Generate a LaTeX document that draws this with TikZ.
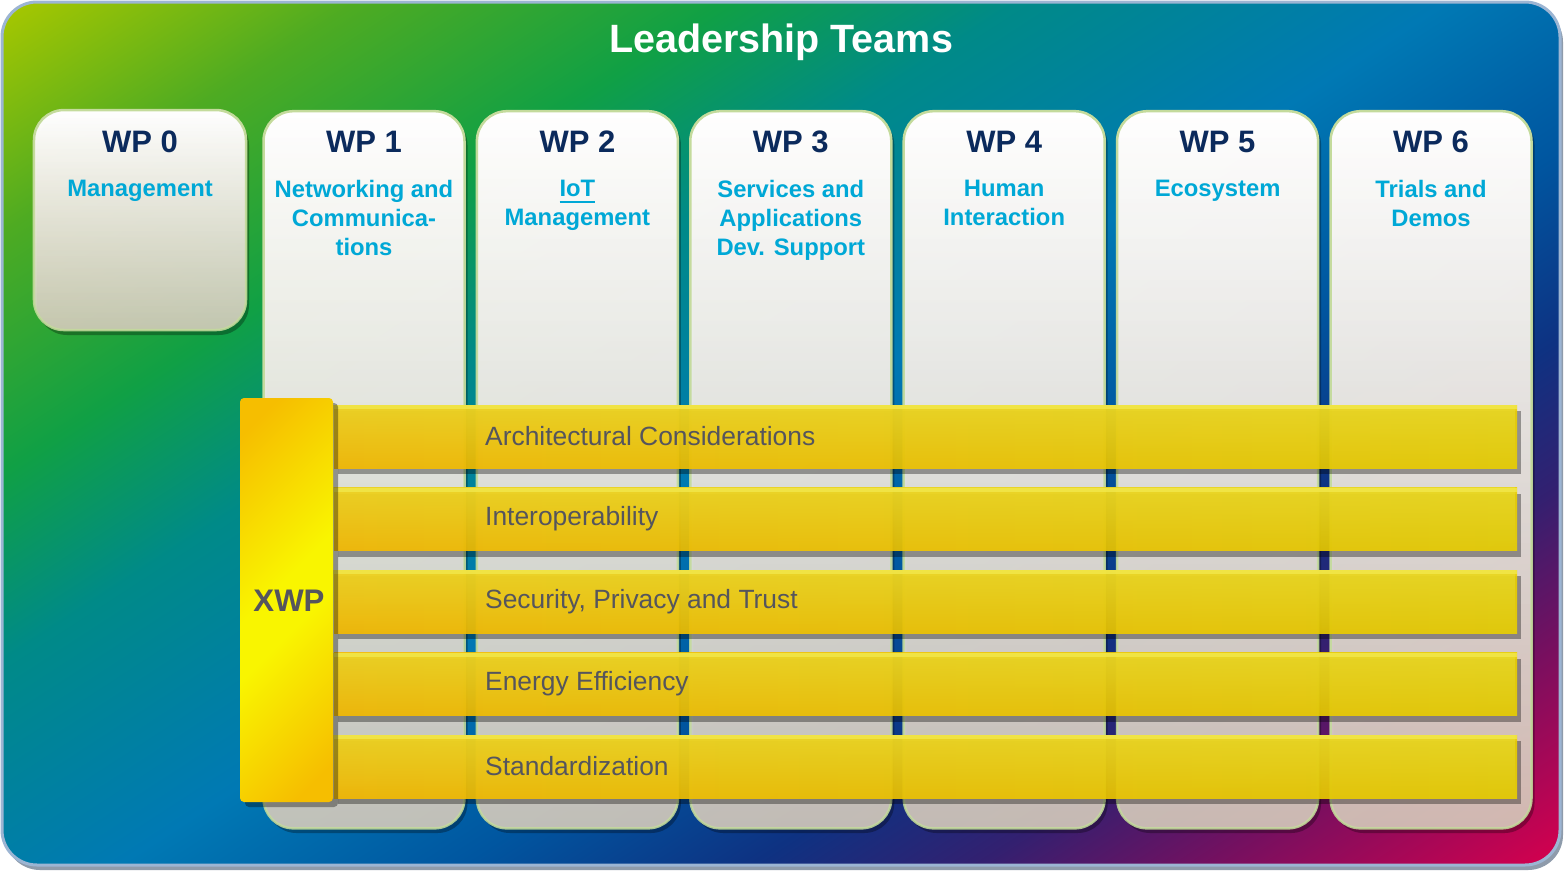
\documentclass[tikz,border=0pt]{standalone}
\usepackage{fontspec}
\setmainfont{Liberation Sans}
\usetikzlibrary{positioning,shadows,fadings}

% background, a diagonal sweep
\definecolor{bgA}{HTML}{A6C700}
\definecolor{bgB}{HTML}{4EAB22}
\definecolor{bgC}{HTML}{10A045}
\definecolor{bgD}{HTML}{008A88}
\definecolor{bgE}{HTML}{0079B4}
\definecolor{bgF}{HTML}{0056A0}
\definecolor{bgG}{HTML}{0E3282}
\definecolor{bgH}{HTML}{332070}
\definecolor{bgI}{HTML}{741060}
\definecolor{bgJ}{HTML}{D4004E}
\definecolor{wpnavy}{HTML}{0B2A5C}
\definecolor{wpcyan}{HTML}{00A8D6}
\definecolor{labelgray}{HTML}{55555D}
\definecolor{colrim}{HTML}{C4DB9C}
\definecolor{colbottom}{HTML}{DFD4C4}
\definecolor{framerim}{HTML}{9CB5D3}
\definecolor{frameshade}{HTML}{8E9BAB}
\definecolor{bandL}{HTML}{F8BC00}
\definecolor{bandR}{HTML}{EAD000}
\definecolor{bandhi}{HTML}{E8DA30}
\definecolor{bandtop}{HTML}{F2E84C}
\definecolor{xwpO}{HTML}{F6BE00}
\definecolor{xwpY}{HTML}{F9F500}

\pgfdeclarehorizontalshading{teamsbg}{100bp}{color(0bp)=(bgA); color(24.9bp)=(bgA);
  color(30.9bp)=(bgB); color(37.4bp)=(bgC); color(42.5bp)=(bgD); color(50bp)=(bgE);
  color(56bp)=(bgF); color(61.1bp)=(bgG); color(65.1bp)=(bgH); color(69.1bp)=(bgI);
  color(75.1bp)=(bgJ); color(100bp)=(bgJ)}
\pgfdeclarehorizontalshading{xwpshade}{100bp}{color(0bp)=(xwpO); color(20bp)=(xwpO);
  color(47bp)=(xwpY); color(55bp)=(xwpY); color(80bp)=(xwpO); color(100bp)=(xwpO)}
\tikzfading[name=fade down, top color=transparent!0, bottom color=transparent!100]
\tikzfading[name=col fade, top color=transparent!0, bottom color=transparent!14]

\newsavebox\ulbox
\newcommand\ulinetext[1]{\sbox\ulbox{#1}\rlap{\rule[-6.3pt]{\wd\ulbox}{2.3pt}}\usebox\ulbox}

\begin{document}
\begin{tikzpicture}[x=1pt, y=-1pt,
  teamframe/.style={rectangle, rounded corners=35, draw=framerim, line width=3, outer sep=0, inner sep=0,
    path picture={\shade[shading=teamsbg, shading angle=-57]
      ([xshift=-782pt,yshift=-782pt]path picture bounding box.center) rectangle
      ([xshift=782pt,yshift=782pt]path picture bounding box.center);},
    drop shadow={shadow xshift=3pt, shadow yshift=-5pt, fill=frameshade, opacity=1}},
  wpcol/.style={rectangle, rounded corners=30, draw=colrim, line width=2.5, outer sep=0, inner sep=0,
    top color=white, bottom color=colbottom, path fading=col fade, minimum width=201,
    drop shadow={shadow xshift=3pt, shadow yshift=-5pt, opacity=0.3, fill=black}},
  wphead/.style={anchor=base, text=wpnavy, font=\fontsize{31}{36}\selectfont\bfseries, inner sep=0},
  wpsub/.style={anchor=north, align=center, text=wpcyan, font=\fontsize{23.8}{29}\selectfont\bfseries, inner sep=0},
  bandbox/.style={rectangle, minimum width=1183, minimum height=63, inner sep=0, outer sep=0,
    left color=bandL, right color=bandR, fill opacity=0.9,
    drop shadow={shadow xshift=4pt, shadow yshift=-6pt, opacity=0.35, fill=black}},
  bandlabel/.style={anchor=west, text=labelgray, font=\fontsize{26.4}{30}\selectfont, inner sep=0},
  xwpbox/.style={rectangle, rounded corners=4, inner sep=0, outer sep=0,
    shade, shading=xwpshade, shading angle=-45,
    drop shadow={shadow xshift=5pt, shadow yshift=-5pt, opacity=0.35, fill=black}},
  xwplabel/.style={text=labelgray, font=\fontsize{31.2}{36}\selectfont\bfseries, inner sep=0}]
  \useasboundingbox (0,0) rectangle (1564,871);

  \node[teamframe, minimum width=1558, minimum height=863] (frame) at (781,433.5) {};
  \node[anchor=base, text=white, font=\fontsize{39.5}{44}\selectfont\bfseries, inner sep=0]
    (title) at ([yshift=-50pt]frame.north) {Leadership Teams};

  % work packages
  \node[wpcol, minimum width=212, minimum height=220] (wp0) at (140,220) {};
  \node[wphead] (wp0-head) at ([yshift=-42pt]wp0.north) {WP 0};
  \node[wpsub] (wp0-sub) at ([yshift=-70pt]wp0.north) {Management};
  \foreach \n/\x/\sub in {1/364/{Networking and\\Communica-\\tions}, 2/577.4/{\ulinetext{IoT}\\Management},
      3/790.8/{Services and\\Applications\\Dev. Support}, 4/1004.2/{Human\\Interaction},
      5/1217.6/Ecosystem, 6/1431/{Trials and\\Demos}} {
    \node[wpcol, minimum height=718] (wp\n) at (\x,469) {};
    \node[wphead] (wp\n-head) at ([yshift=-42pt]wp\n.north) {WP \n};
    \node[wpsub] (wp\n-sub) at ([yshift=-70pt]wp\n.north) {\sub};
  }

  % cross-cutting topics
  \foreach \band/\txt [count=\i from 0] in {arch/Architectural Considerations, interop/Interoperability,
      secure/{Security, Privacy and Trust}, energy/Energy Efficiency, stand/Standardization} {
    \node[bandbox] (\band) at (925.5,436.5+82.5*\i) {};
    \fill[bandhi, path fading=fade down, fill opacity=0.7] (\band.north west) rectangle (\band.south east);
    \fill[bandtop, fill opacity=0.8] (\band.north west) rectangle ([yshift=-4pt]\band.north east);
    \node[bandlabel, right=151pt of \band.west] (\band-lbl) {\txt};
  }
  \node[xwpbox, minimum width=93, minimum height=404] (xwp) at (286.5,600) {};
  \node[xwplabel] (xwp-lbl) at ([xshift=2.5pt,yshift=-1pt]xwp.center) {XWP};
\end{tikzpicture}
\end{document}
